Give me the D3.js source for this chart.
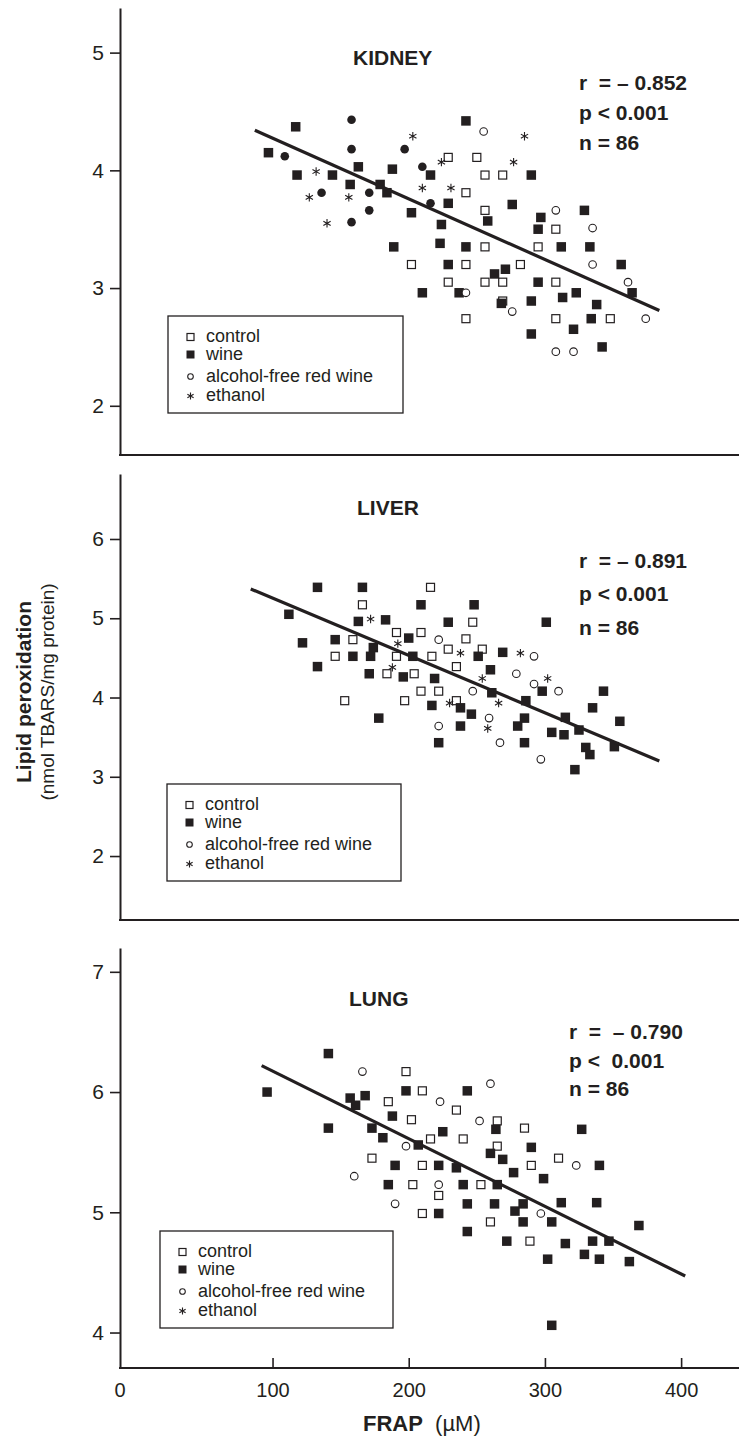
<!DOCTYPE html>
<html>
<head>
<meta charset="utf-8">
<script src="https://cdn.jsdelivr.net/npm/d3@7"></script>
<style>
  body { margin: 0; background: #fff; }
  svg { display: block; font-family: "Liberation Sans", Arial, sans-serif; }
</style>
</head>
<body>
<script>
// ---- data: [FRAP (uM), lipid peroxidation (nmol TBARS/mg protein)] ----
var frapTicks = [0, 100, 200, 300, 400];

var kidneyTicks = [2, 3, 4, 5];
var kidneyControl = [[229,4.11],[250,4.11],[256,3.96],[269,3.96],[242,3.81],[256,3.66],[308,3.50],[256,3.35],[295,3.35],[202,3.20],
  [242,3.20],[282,3.20],[229,3.05],[256,3.05],[269,3.05],[308,3.05],[269,2.89],[242,2.74],[308,2.74],[348,2.74]];
var kidneyWine = [[97,4.15],[117,4.37],[118,3.96],[144,3.96],[157,3.88],[163,4.03],[179,3.88],[184,3.81],[188,4.01],[202,3.64],
  [189,3.35],[242,4.42],[216,3.96],[290,3.96],[229,3.72],[276,3.71],[224,3.54],[297,3.60],[258,3.57],[295,3.50],
  [329,3.66],[223,3.38],[242,3.35],[312,3.35],[333,3.35],[229,3.20],[356,3.20],[271,3.16],[263,3.12],[295,3.05],
  [210,2.96],[237,2.96],[323,2.96],[313,2.92],[268,2.87],[290,2.89],[338,2.86],[364,2.96],[334,2.74],[321,2.65],
  [290,2.61],[342,2.50]];
var kidneyDots = [[109,4.12],[158,4.43],[158,4.18],[136,3.81],[171,3.81],[171,3.66],[158,3.56],[197,4.18],[210,4.03],[216,3.72]];
var kidneyAfrw = [[255,4.33],[308,3.66],[335,3.51],[335,3.20],[361,3.05],[242,2.96],[276,2.80],[374,2.74],[308,2.46],[321,2.46]];
var kidneyEthanol = [[132,3.99],[127,3.77],[156,3.77],[140,3.55],[203,4.29],[224,4.07],[210,3.85],[231,3.85],[285,4.29],[277,4.07]];
var kidneyFit = [[87,4.34],[384,2.81]];
var kidneyStats = ["r  = \u2013 0.852", "p < 0.001", "n = 86"];

var liverTicks = [2, 3, 4, 5, 6];
var liverControl = [[166,5.17],[159,4.73],[191,4.82],[209,4.82],[146,4.52],[191,4.52],[216,5.39],[247,4.95],[242,4.74],[229,4.61],
  [254,4.61],[217,4.52],[235,4.39],[184,4.30],[204,4.30],[153,3.96],[197,3.96],[209,4.08],[222,4.08],[235,3.96]];
var liverWine = [[133,5.39],[166,5.39],[112,5.05],[163,4.96],[183,4.98],[122,4.69],[146,4.73],[174,4.63],[200,4.75],[159,4.52],
  [172,4.52],[203,4.52],[133,4.39],[209,5.17],[248,5.17],[229,4.95],[301,4.95],[251,4.52],[269,4.57],[260,4.35],
  [171,4.30],[196,4.26],[219,4.24],[178,3.74],[261,4.06],[298,4.08],[217,3.90],[238,3.87],[246,3.79],[238,3.64],
  [222,3.43],[280,3.64],[285,3.74],[286,3.96],[285,3.43],[305,3.56],[314,3.53],[315,3.75],[325,3.59],[335,3.87],
  [343,4.08],[355,3.70],[330,3.37],[333,3.28],[322,3.09],[351,3.38]];
var liverAfrw = [[222,4.73],[292,4.52],[279,4.30],[292,4.17],[247,4.08],[310,4.08],[222,3.64],[259,3.74],[267,3.43],[297,3.22]];
var liverEthanol = [[172,4.99],[192,4.68],[188,4.38],[238,4.56],[282,4.56],[254,4.24],[302,4.24],[230,3.93],[266,3.93],[258,3.61]];
var liverFit = [[84,5.37],[384,3.20]];
var liverStats = ["r  = \u2013 0.891", "p < 0.001", "n = 86"];

var lungTicks = [4, 5, 6, 7];
var lungControl = [[198,6.17],[185,5.92],[173,5.45],[202,5.77],[210,6.01],[235,5.85],[265,5.76],[285,5.70],[216,5.61],[240,5.61],
  [265,5.55],[210,5.39],[290,5.39],[310,5.45],[203,5.23],[253,5.23],[222,5.14],[210,4.99],[260,4.92],[289,4.76]];
var lungWine = [[96,6.00],[141,6.32],[141,5.70],[157,5.95],[161,5.89],[168,5.97],[173,5.70],[181,5.62],[188,5.80],[198,6.01],
  [190,5.39],[243,6.01],[225,5.67],[207,5.56],[264,5.69],[327,5.69],[290,5.54],[260,5.49],[269,5.44],[222,5.39],
  [235,5.37],[277,5.33],[299,5.28],[340,5.39],[185,5.23],[240,5.23],[265,5.23],[243,5.07],[263,5.07],[284,5.07],
  [312,5.08],[338,5.08],[222,4.99],[278,5.01],[284,4.92],[305,4.92],[369,4.89],[243,4.84],[272,4.76],[315,4.74],
  [335,4.76],[347,4.76],[302,4.61],[329,4.65],[340,4.61],[362,4.59],[305,4.06]];
var lungAfrw = [[166,6.17],[198,5.55],[260,6.07],[223,5.92],[252,5.76],[323,5.39],[160,5.30],[222,5.23],[190,5.07],[297,4.99]];
var lungEthanol = [];
var lungFit = [[92,6.22],[403,4.47]];
var lungStats = ["r  =  \u2013 0.790", "p <  0.001", "n = 86"];

var legendLabels = ["control", "wine", "alcohol-free red wine", "ethanol"];

// ---- layout ----
var W = 739, H = 1439, ink = "#231f20";
var axisX = 120;

var x = d3.scaleLinear().domain([-12, 442.5]).range([axisX, W]);

var panels = [
  { name: "KIDNEY", top: 8, bottom: 455, yDom: [1.582, 5.379], ticks: kidneyTicks,
    groups: { control: kidneyControl, wine: kidneyWine, dot: kidneyDots, afrw: kidneyAfrw, ethanol: kidneyEthanol },
    fit: kidneyFit, stats: kidneyStats,
    titleX: 353, titleY: 65, statX: 579, statY: 90, statGap: 30, leg: [168, 316, 235, 97] },
  { name: "LIVER", top: 474, bottom: 920, yDom: [1.193, 6.82], ticks: liverTicks,
    groups: { control: liverControl, wine: liverWine, afrw: liverAfrw, ethanol: liverEthanol },
    fit: liverFit, stats: liverStats,
    titleX: 357, titleY: 515, statX: 579, statY: 568, statGap: 33.3, leg: [167, 784, 234, 97] },
  { name: "LUNG", top: 948, bottom: 1368, yDom: [3.705, 7.198], ticks: lungTicks,
    groups: { control: lungControl, wine: lungWine, afrw: lungAfrw, ethanol: lungEthanol },
    fit: lungFit, stats: lungStats,
    titleX: 349, titleY: 1006, statX: 569, statY: 1039, statGap: 28.7, leg: [160, 1231, 233, 97] }
];

var svg = d3.select("body").append("svg")
    .attr("width", W)
    .attr("height", H);

svg.append("rect").attr("width", W).attr("height", H).attr("fill", "#fff");

function starPath(r) {
  var p = d3.path();
  [90, 30, 150].forEach(function (a) {
    var t = a * Math.PI / 180, dx = r * Math.cos(t), dy = r * Math.sin(t);
    p.moveTo(-dx, -dy); p.lineTo(dx, dy);
  });
  return p.toString();
}

// draw one marker of a group at (cx, cy); small = legend size
function marker(g, kind, cx, cy, small) {
  var s;
  if (kind == "control") {
    s = small ? 7 : 8;
    g.append("rect").attr("x", cx - s / 2).attr("y", cy - s / 2).attr("width", s).attr("height", s)
      .attr("fill", "#fff").attr("stroke", ink).attr("stroke-width", 1.2);
  } else if (kind == "wine") {
    s = small ? 8 : 9.5;
    g.append("rect").attr("x", cx - s / 2).attr("y", cy - s / 2).attr("width", s).attr("height", s)
      .attr("fill", ink);
  } else if (kind == "afrw") {
    g.append("circle").attr("cx", cx).attr("cy", cy).attr("r", small ? 2.8 : 3.8)
      .attr("fill", "#fff").attr("stroke", ink).attr("stroke-width", 1.1);
  } else if (kind == "dot") {
    g.append("circle").attr("cx", cx).attr("cy", cy).attr("r", 4.3).attr("fill", ink);
  } else if (kind == "ethanol") {
    g.append("path").attr("transform", "translate(" + cx + "," + cy + ")")
      .attr("d", starPath(small ? 3.6 : 4.2))
      .attr("fill", "none").attr("stroke", ink).attr("stroke-width", 1.1);
  }
}

panels.forEach(function (P) {
  var y = d3.scaleLinear().domain(P.yDom).range([P.bottom, P.top]);
  var g = svg.append("g");

  // left axis
  var ax = g.append("g")
      .attr("transform", "translate(" + axisX + ",0)")
      .call(d3.axisLeft(y).tickValues(P.ticks).tickSize(10).tickSizeOuter(0).tickPadding(6)
        .tickFormat(d3.format("d")));
  ax.select(".domain").attr("stroke", ink).attr("stroke-width", 2);
  ax.selectAll(".tick line").attr("stroke", ink).attr("stroke-width", 1.6);
  ax.selectAll(".tick text").attr("fill", ink).style("font-size", "21px")
    .style("font-family", "'Liberation Sans', Arial, sans-serif");

  // bottom line
  g.append("line")
    .attr("x1", axisX - 1).attr("x2", W)
    .attr("y1", P.bottom).attr("y2", P.bottom)
    .attr("stroke", ink).attr("stroke-width", 2.2);

  // points
  var pts = g.append("g");
  ["control", "wine", "dot", "afrw", "ethanol"].forEach(function (k) {
    (P.groups[k] || []).forEach(function (d) {
      marker(pts, k, x(d[0]), y(d[1]), false);
    });
  });

  // regression line
  g.append("path")
    .datum(P.fit)
    .attr("fill", "none")
    .attr("stroke", ink)
    .attr("stroke-width", 3.2)
    .attr("d", d3.line().x(function (d) { return x(d[0]); }).y(function (d) { return y(d[1]); }));

  // title
  g.append("text")
    .attr("x", P.titleX).attr("y", P.titleY)
    .attr("fill", ink)
    .style("font-size", "21px").style("font-weight", "bold")
    .text(P.name);

  // stats
  P.stats.forEach(function (s, i) {
    g.append("text")
      .attr("x", P.statX).attr("y", P.statY + i * P.statGap)
      .attr("fill", ink)
      .style("font-size", "21px").style("font-weight", "bold")
      .style("white-space", "pre")
      .attr("xml:space", "preserve")
      .text(s);
  });

  // legend
  var L = P.leg;
  var lg = g.append("g");
  lg.append("rect").attr("x", L[0]).attr("y", L[1]).attr("width", L[2]).attr("height", L[3])
    .attr("fill", "#fff").attr("stroke", ink).attr("stroke-width", 1.3);
  var rows = [26, 43.5, 65.5, 85];
  ["control", "wine", "afrw", "ethanol"].forEach(function (k, i) {
    marker(lg, k, L[0] + 22.5, L[1] + rows[i] - 5, true);
    lg.append("text")
      .attr("x", L[0] + 38).attr("y", L[1] + rows[i])
      .attr("fill", ink)
      .style("font-size", "18px")
      .text(legendLabels[i]);
  });

  // x axis ticks only on the last panel
  if (P.name == "LUNG") {
    var xa = g.append("g")
        .attr("transform", "translate(0," + P.bottom + ")")
        .call(d3.axisBottom(x).tickValues(frapTicks.slice(1)).tickSize(-10).tickSizeOuter(0).tickPadding(15)
          .tickFormat(d3.format("d")));
    xa.select(".domain").remove();
    xa.selectAll(".tick line").attr("stroke", ink).attr("stroke-width", 1.6);
    xa.selectAll(".tick text").attr("fill", ink).style("font-size", "20px")
      .style("font-family", "'Liberation Sans', Arial, sans-serif");
    // origin label sits at the axis corner
    g.append("text")
      .attr("x", x.range()[0]).attr("y", P.bottom + 29)
      .attr("text-anchor", "middle").attr("fill", ink)
      .style("font-size", "20px")
      .text(frapTicks[0]);
  }
});

// axis titles
var xt = svg.append("text")
    .attr("x", 363).attr("y", 1431)
    .attr("fill", ink)
    .style("font-size", "22px")
    .attr("xml:space", "preserve");
xt.append("tspan").style("font-weight", "bold").text("FRAP");
xt.append("tspan").text("  (\u00b5M)");

var yt = svg.append("g").attr("transform", "translate(0,692) rotate(-90)");
yt.append("text")
  .attr("x", 0).attr("y", 31)
  .attr("text-anchor", "middle").attr("fill", ink)
  .style("font-size", "21px").style("font-weight", "bold")
  .text("Lipid peroxidation");
yt.append("text")
  .attr("x", 0).attr("y", 54)
  .attr("text-anchor", "middle").attr("fill", ink)
  .style("font-size", "19px")
  .text("(nmol TBARS/mg protein)");
</script>
</body>
</html>
